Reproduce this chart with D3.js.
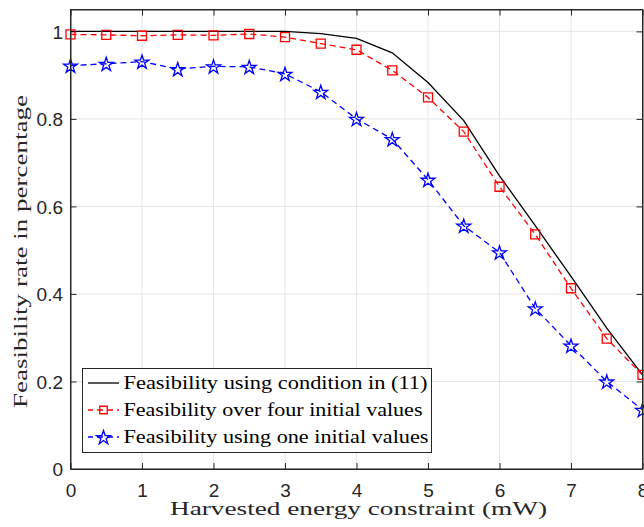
<!DOCTYPE html>
<html><head><meta charset="utf-8">
<script src="https://cdn.jsdelivr.net/npm/d3@7"></script>
<style>body{margin:0;background:#fff}svg{display:block}</style>
</head><body>
<svg id="c" width="644" height="527"></svg>
<script>
const xValues = [0,0.5,1,1.5,2,2.5,3,3.5,4,4.5,5,5.5,6,6.5,7,7.5,8];
const condition11 = [1.0,1.0,1.0,1.0,1.0,1.0,1.0,0.995,0.984,0.951,0.883,0.796,0.67,0.556,0.44,0.322,0.215];
const fourInit = [0.993,0.992,0.99,0.992,0.991,0.994,0.987,0.972,0.958,0.911,0.849,0.771,0.645,0.536,0.413,0.298,0.215];
const oneInit = [0.922,0.926,0.931,0.914,0.92,0.919,0.903,0.862,0.80,0.754,0.661,0.556,0.495,0.367,0.282,0.20,0.135];
const xTicks = [0,1,2,3,4,5,6,7,8];
const yTicks = [0,0.2,0.4,0.6,0.8,1];
const legendLabels = ["Feasibility using condition in (11)","Feasibility over four initial values","Feasibility using one initial values"];
const xLabel = "Harvested energy constraint (mW)";
const yLabel = "Feasibility rate in percentage";

const svg = d3.select("#c");
const L=70.5, R=642.5, T=9.5, B=469;
const x = d3.scaleLinear().domain([0,8]).range([L,R]);
const y = d3.scaleLinear().domain([0,1.05]).range([B,T]);
const axisColor="#262626";

// grid
const g = svg.append("g");
g.selectAll(".gx").data(xTicks).enter().append("line")
  .attr("x1",d=>x(d)).attr("x2",d=>x(d)).attr("y1",T).attr("y2",B)
  .attr("stroke","#e6e6e6").attr("stroke-width",1);
g.selectAll(".gy").data(yTicks).enter().append("line")
  .attr("y1",d=>y(d)).attr("y2",d=>y(d)).attr("x1",L).attr("x2",R)
  .attr("stroke","#e6e6e6").attr("stroke-width",1);

// axes with inward ticks
function styleAxis(sel){
  sel.selectAll("path.domain").attr("stroke",axisColor).attr("stroke-width",1);
  sel.selectAll(".tick line").attr("stroke",axisColor).attr("stroke-width",1);
  sel.selectAll(".tick text").attr("fill",axisColor).attr("font-family","Liberation Sans, Arial, sans-serif").attr("font-size","19px");
}
const ax = svg.append("g").attr("transform",`translate(0,${B})`)
  .call(d3.axisBottom(x).tickValues(xTicks).tickSizeInner(-6).tickSizeOuter(0).tickPadding(20).tickFormat(d3.format("d")));
styleAxis(ax);
ax.selectAll(".tick text").attr("dy","0").attr("y",28);
const axT = svg.append("g").attr("transform",`translate(0,${T})`)
  .call(d3.axisTop(x).tickValues(xTicks).tickSizeInner(-6).tickSizeOuter(0).tickFormat(""));
styleAxis(axT);
const ay = svg.append("g").attr("transform",`translate(${L},0)`)
  .call(d3.axisLeft(y).tickValues(yTicks).tickSizeInner(-6).tickSizeOuter(0).tickPadding(13).tickFormat(d=>d===0||d===1?d3.format("d")(d):d3.format(".1f")(d)));
styleAxis(ay);
ay.selectAll(".tick text").attr("x",-7.5).attr("dy","0.36em");
const ayR = svg.append("g").attr("transform",`translate(${R},0)`)
  .call(d3.axisRight(y).tickValues(yTicks).tickSizeInner(-6).tickSizeOuter(0).tickFormat(""));
styleAxis(ayR);

// series
const pts = (vals)=>xValues.map((v,i)=>[v,vals[i]]);
const line = d3.line().x(d=>x(d[0])).y(d=>y(d[1]));
svg.append("path").datum(pts(condition11)).attr("d",line)
  .attr("fill","none").attr("stroke","#000").attr("stroke-width",1.3);
svg.append("path").datum(pts(fourInit)).attr("d",line)
  .attr("fill","none").attr("stroke","#ff0000").attr("stroke-width",1.3).attr("stroke-dasharray","6,4");
svg.append("path").datum(pts(oneInit)).attr("d",line)
  .attr("fill","none").attr("stroke","#0000ff").attr("stroke-width",1.3).attr("stroke-dasharray","6,4");

const sq = d3.symbol().type(d3.symbolSquare).size(81);
svg.selectAll(".sq").data(pts(fourInit)).enter().append("path")
  .attr("d",sq).attr("transform",d=>`translate(${x(d[0])},${y(d[1])})`)
  .attr("fill","none").attr("stroke","#ff0000").attr("stroke-width",1.3);
const st = d3.symbol().type(d3.symbolStar).size(60);
svg.selectAll(".st").data(pts(oneInit)).enter().append("path")
  .attr("d",st).attr("transform",d=>`translate(${x(d[0])},${y(d[1])+0.8})`)
  .attr("fill","none").attr("stroke","#0000ff").attr("stroke-width",1.3);

// box edges drawn again on top
svg.append("rect").attr("x",L).attr("y",T).attr("width",R-L).attr("height",B-T)
  .attr("fill","none").attr("stroke",axisColor).attr("stroke-width",1);

// legend
const lg = svg.append("g");
lg.append("rect").attr("x",82.5).attr("y",368.5).attr("width",349).attr("height",84)
  .attr("fill","#fff").attr("stroke",axisColor).attr("stroke-width",1);
const legY=[383,410,437];
const legLen=[304,299,305];
const legColors=["#000","#ff0000","#0000ff"];
legendLabels.forEach((t,i)=>{
  lg.append("line").attr("x1",88).attr("x2",119).attr("y1",legY[i]).attr("y2",legY[i])
    .attr("stroke",legColors[i]).attr("stroke-width",1.3)
    .attr("stroke-dasharray",i===0?null:"6,4").attr("stroke-dashoffset",i===0?0:1);
  if(i===1) lg.append("path").attr("d",d3.symbol().type(d3.symbolSquare).size(56)())
    .attr("transform",`translate(103.5,${legY[i]})`).attr("fill","none").attr("stroke","#ff0000").attr("stroke-width",1.3);
  if(i===2) lg.append("path").attr("d",d3.symbol().type(d3.symbolStar).size(60)())
    .attr("transform",`translate(103.5,${legY[i]+0.8})`).attr("fill","none").attr("stroke","#0000ff").attr("stroke-width",1.3);
  lg.append("text").attr("x",123.5).attr("y",legY[i]+5.5).text(t)
    .attr("font-family","Liberation Serif, Times New Roman, serif").attr("font-size","18.5px")
    .attr("fill","#000").attr("textLength",legLen[i]).attr("lengthAdjust","spacingAndGlyphs");
});

// axis labels
svg.append("text").attr("x",170).attr("y",515).text(xLabel)
  .attr("font-family","Liberation Serif, Times New Roman, serif").attr("font-size","19px")
  .attr("fill",axisColor).attr("textLength",377).attr("lengthAdjust","spacingAndGlyphs");
svg.append("text").attr("transform","translate(27,408) rotate(-90)").text(yLabel)
  .attr("font-family","Liberation Serif, Times New Roman, serif").attr("font-size","19px")
  .attr("fill",axisColor).attr("textLength",313).attr("lengthAdjust","spacingAndGlyphs");
</script>
</body></html>
